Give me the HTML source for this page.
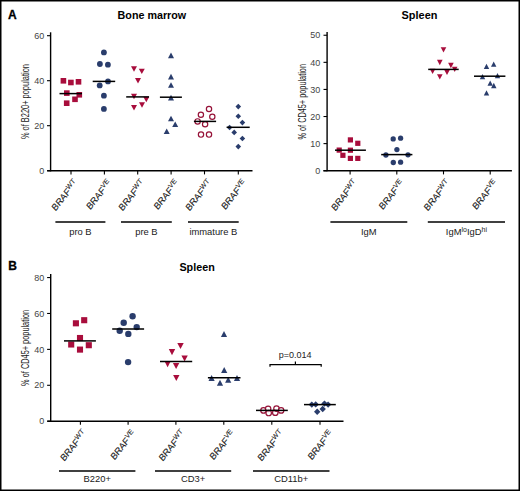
<!DOCTYPE html>
<html><head><meta charset="utf-8"><style>
html,body{margin:0;padding:0;background:#fff;}
body{width:520px;height:491px;overflow:hidden;}
svg{display:block;font-family:"Liberation Sans", sans-serif;}
</style></head><body>
<svg width="520" height="491" viewBox="0 0 520 491">
<rect x="0" y="0" width="520" height="491" fill="#fff"/>
<text x="8" y="19" font-size="12" text-anchor="start" font-weight="bold" fill="#000" stroke="#000" stroke-width="0.3">A</text>
<text x="151.9" y="19" font-size="10.6" text-anchor="middle" font-weight="bold" fill="#000" textLength="68.6" lengthAdjust="spacingAndGlyphs">Bone marrow</text>
<line x1="50.6" y1="32.3" x2="50.6" y2="171.35" stroke="#000" stroke-width="1.4"/>
<line x1="47.0" y1="35.7" x2="50.6" y2="35.7" stroke="#000" stroke-width="1.1"/>
<text x="44.2" y="38.900000000000006" font-size="9" text-anchor="end" font-weight="normal" fill="#444" >60</text>
<line x1="47.0" y1="80.7" x2="50.6" y2="80.7" stroke="#000" stroke-width="1.1"/>
<text x="44.2" y="83.9" font-size="9" text-anchor="end" font-weight="normal" fill="#444" >40</text>
<line x1="47.0" y1="125.7" x2="50.6" y2="125.7" stroke="#000" stroke-width="1.1"/>
<text x="44.2" y="128.9" font-size="9" text-anchor="end" font-weight="normal" fill="#444" >20</text>
<line x1="47.0" y1="170.7" x2="50.6" y2="170.7" stroke="#000" stroke-width="1.1"/>
<text x="44.2" y="173.89999999999998" font-size="9" text-anchor="end" font-weight="normal" fill="#444" >0</text>
<text transform="translate(29.3,101.6) rotate(-90)" font-size="10" text-anchor="middle" fill="#1a1a1a" textLength="75" lengthAdjust="spacingAndGlyphs">% of B220+ population</text>
<line x1="47.2" y1="170.8" x2="252.5" y2="170.8" stroke="#000" stroke-width="1.5"/>
<line x1="71" y1="170.8" x2="71" y2="174.4" stroke="#000" stroke-width="1.1"/>
<line x1="104.4" y1="170.8" x2="104.4" y2="174.4" stroke="#000" stroke-width="1.1"/>
<line x1="137.7" y1="170.8" x2="137.7" y2="174.4" stroke="#000" stroke-width="1.1"/>
<line x1="171.1" y1="170.8" x2="171.1" y2="174.4" stroke="#000" stroke-width="1.1"/>
<line x1="204.5" y1="170.8" x2="204.5" y2="174.4" stroke="#000" stroke-width="1.1"/>
<line x1="238.3" y1="170.8" x2="238.3" y2="174.4" stroke="#000" stroke-width="1.1"/>
<text transform="translate(77.90,183.60) scale(1,1.12) rotate(-48)" font-size="8.7" text-anchor="end" fill="#1a1a1a" stroke="#1a1a1a" stroke-width="0.1">BRAF<tspan font-size="6.6" dy="-3.0">WT</tspan></text>
<text transform="translate(111.60,183.60) scale(1,1.12) rotate(-48)" font-size="8.7" text-anchor="end" fill="#1a1a1a" stroke="#1a1a1a" stroke-width="0.1">BRAF<tspan font-size="6.6" dy="-3.0">VE</tspan></text>
<text transform="translate(144.90,183.60) scale(1,1.12) rotate(-48)" font-size="8.7" text-anchor="end" fill="#1a1a1a" stroke="#1a1a1a" stroke-width="0.1">BRAF<tspan font-size="6.6" dy="-3.0">WT</tspan></text>
<text transform="translate(179.10,183.60) scale(1,1.12) rotate(-48)" font-size="8.7" text-anchor="end" fill="#1a1a1a" stroke="#1a1a1a" stroke-width="0.1">BRAF<tspan font-size="6.6" dy="-3.0">VE</tspan></text>
<text transform="translate(211.80,183.60) scale(1,1.12) rotate(-48)" font-size="8.7" text-anchor="end" fill="#1a1a1a" stroke="#1a1a1a" stroke-width="0.1">BRAF<tspan font-size="6.6" dy="-3.0">WT</tspan></text>
<text transform="translate(246.60,183.60) scale(1,1.12) rotate(-48)" font-size="8.7" text-anchor="end" fill="#1a1a1a" stroke="#1a1a1a" stroke-width="0.1">BRAF<tspan font-size="6.6" dy="-3.0">VE</tspan></text>
<line x1="55.4" y1="221.9" x2="105.4" y2="221.9" stroke="#000" stroke-width="1.5"/>
<text x="80.40" y="235" font-size="9.4" text-anchor="middle" fill="#1a1a1a">pro B</text>
<line x1="121" y1="221.9" x2="171.8" y2="221.9" stroke="#000" stroke-width="1.5"/>
<text x="146.40" y="235" font-size="9.4" text-anchor="middle" fill="#1a1a1a">pre B</text>
<line x1="188" y1="221.9" x2="238.7" y2="221.9" stroke="#000" stroke-width="1.5"/>
<text x="213.35" y="235" font-size="9.4" text-anchor="middle" fill="#1a1a1a">immature B</text>
<rect x="60.60" y="78.00" width="5.6" height="5.6" fill="#a80d3c"/>
<rect x="68.10" y="79.70" width="5.6" height="5.6" fill="#a80d3c"/>
<rect x="75.70" y="79.00" width="5.6" height="5.6" fill="#a80d3c"/>
<rect x="64.00" y="90.30" width="5.6" height="5.6" fill="#a80d3c"/>
<rect x="76.50" y="92.00" width="5.6" height="5.6" fill="#a80d3c"/>
<rect x="72.20" y="96.50" width="5.6" height="5.6" fill="#a80d3c"/>
<rect x="63.90" y="100.40" width="5.6" height="5.6" fill="#a80d3c"/>
<line x1="59.5" y1="93.6" x2="82" y2="93.6" stroke="#000" stroke-width="1.5"/>
<circle cx="103.9" cy="52.4" r="2.9" fill="#2a3d6c"/>
<circle cx="99.9" cy="64" r="2.9" fill="#2a3d6c"/>
<circle cx="107.9" cy="64.7" r="2.9" fill="#2a3d6c"/>
<circle cx="108" cy="81.4" r="2.9" fill="#2a3d6c"/>
<circle cx="99.7" cy="85.4" r="2.9" fill="#2a3d6c"/>
<circle cx="103.9" cy="95.7" r="2.9" fill="#2a3d6c"/>
<circle cx="103.9" cy="108.9" r="2.9" fill="#2a3d6c"/>
<line x1="92.7" y1="81.4" x2="115.2" y2="81.4" stroke="#000" stroke-width="1.5"/>
<path d="M131.00,66.30H137.00L134.00,71.70Z" fill="#a80d3c"/>
<path d="M138.80,68.70H144.80L141.80,74.10Z" fill="#a80d3c"/>
<path d="M135.00,78.00H141.00L138.00,83.40Z" fill="#a80d3c"/>
<path d="M131.00,93.80H137.00L134.00,99.20Z" fill="#a80d3c"/>
<path d="M143.30,96.80H149.30L146.30,102.20Z" fill="#a80d3c"/>
<path d="M139.00,102.30H145.00L142.00,107.70Z" fill="#a80d3c"/>
<path d="M131.00,105.00H137.00L134.00,110.40Z" fill="#a80d3c"/>
<line x1="126.2" y1="96.9" x2="149" y2="96.9" stroke="#000" stroke-width="1.5"/>
<path d="M168.00,58.20H174.00L171.00,52.60Z" fill="#2a3d6c"/>
<path d="M168.00,79.40H174.00L171.00,73.80Z" fill="#2a3d6c"/>
<path d="M168.00,87.80H174.00L171.00,82.20Z" fill="#2a3d6c"/>
<path d="M168.00,100.40H174.00L171.00,94.80Z" fill="#2a3d6c"/>
<path d="M168.00,121.30H174.00L171.00,115.70Z" fill="#2a3d6c"/>
<path d="M172.20,127.10H178.20L175.20,121.50Z" fill="#2a3d6c"/>
<path d="M163.70,134.00H169.70L166.70,128.40Z" fill="#2a3d6c"/>
<line x1="159.9" y1="97.2" x2="181.9" y2="97.2" stroke="#000" stroke-width="1.5"/>
<circle cx="209" cy="109" r="2.65" fill="#fff" fill-opacity="0.6" stroke="#961238" stroke-width="1.2"/>
<circle cx="200.9" cy="114.8" r="2.65" fill="#fff" fill-opacity="0.6" stroke="#961238" stroke-width="1.2"/>
<circle cx="212.3" cy="116.7" r="2.65" fill="#fff" fill-opacity="0.6" stroke="#961238" stroke-width="1.2"/>
<circle cx="197.6" cy="121.4" r="2.65" fill="#fff" fill-opacity="0.6" stroke="#961238" stroke-width="1.2"/>
<circle cx="205.1" cy="124.3" r="2.65" fill="#fff" fill-opacity="0.6" stroke="#961238" stroke-width="1.2"/>
<circle cx="201" cy="134.6" r="2.65" fill="#fff" fill-opacity="0.6" stroke="#961238" stroke-width="1.2"/>
<circle cx="209" cy="134.6" r="2.65" fill="#fff" fill-opacity="0.6" stroke="#961238" stroke-width="1.2"/>
<line x1="193.9" y1="121.4" x2="216.1" y2="121.4" stroke="#000" stroke-width="1.5"/>
<path d="M238.30,103.80L241.10,106.60L238.30,109.40L235.50,106.60Z" fill="#2a3d6c"/>
<path d="M238.30,113.50L241.10,116.30L238.30,119.10L235.50,116.30Z" fill="#2a3d6c"/>
<path d="M242.40,119.80L245.20,122.60L242.40,125.40L239.60,122.60Z" fill="#2a3d6c"/>
<path d="M229.60,124.70L232.40,127.50L229.60,130.30L226.80,127.50Z" fill="#2a3d6c"/>
<path d="M234.20,129.60L237.00,132.40L234.20,135.20L231.40,132.40Z" fill="#2a3d6c"/>
<path d="M242.40,135.70L245.20,138.50L242.40,141.30L239.60,138.50Z" fill="#2a3d6c"/>
<path d="M238.30,143.80L241.10,146.60L238.30,149.40L235.50,146.60Z" fill="#2a3d6c"/>
<line x1="226.6" y1="127.3" x2="249.7" y2="127.3" stroke="#000" stroke-width="1.5"/>
<text x="419.5" y="19" font-size="10.6" text-anchor="middle" font-weight="bold" fill="#000" textLength="35.8" lengthAdjust="spacingAndGlyphs">Spleen</text>
<line x1="327.1" y1="32.1" x2="327.1" y2="171.35" stroke="#000" stroke-width="1.4"/>
<line x1="323.5" y1="35.24999999999997" x2="327.1" y2="35.24999999999997" stroke="#000" stroke-width="1.1"/>
<text x="320.2" y="38.449999999999974" font-size="9" text-anchor="end" font-weight="normal" fill="#444" >50</text>
<line x1="323.5" y1="62.33999999999999" x2="327.1" y2="62.33999999999999" stroke="#000" stroke-width="1.1"/>
<text x="320.2" y="65.53999999999999" font-size="9" text-anchor="end" font-weight="normal" fill="#444" >40</text>
<line x1="323.5" y1="89.42999999999999" x2="327.1" y2="89.42999999999999" stroke="#000" stroke-width="1.1"/>
<text x="320.2" y="92.63" font-size="9" text-anchor="end" font-weight="normal" fill="#444" >30</text>
<line x1="323.5" y1="116.51999999999998" x2="327.1" y2="116.51999999999998" stroke="#000" stroke-width="1.1"/>
<text x="320.2" y="119.71999999999998" font-size="9" text-anchor="end" font-weight="normal" fill="#444" >20</text>
<line x1="323.5" y1="143.60999999999999" x2="327.1" y2="143.60999999999999" stroke="#000" stroke-width="1.1"/>
<text x="320.2" y="146.80999999999997" font-size="9" text-anchor="end" font-weight="normal" fill="#444" >10</text>
<line x1="323.5" y1="170.7" x2="327.1" y2="170.7" stroke="#000" stroke-width="1.1"/>
<text x="320.2" y="173.89999999999998" font-size="9" text-anchor="end" font-weight="normal" fill="#444" >0</text>
<text transform="translate(305.6,101.8) rotate(-90)" font-size="10" text-anchor="middle" fill="#1a1a1a" textLength="75.5" lengthAdjust="spacingAndGlyphs">% of CD45+ population</text>
<line x1="323.4" y1="170.8" x2="511.9" y2="170.8" stroke="#000" stroke-width="1.5"/>
<line x1="350.1" y1="170.8" x2="350.1" y2="174.4" stroke="#000" stroke-width="1.1"/>
<line x1="396.8" y1="170.8" x2="396.8" y2="174.4" stroke="#000" stroke-width="1.1"/>
<line x1="443.5" y1="170.8" x2="443.5" y2="174.4" stroke="#000" stroke-width="1.1"/>
<line x1="490.2" y1="170.8" x2="490.2" y2="174.4" stroke="#000" stroke-width="1.1"/>
<text transform="translate(357.50,183.60) scale(1,1.12) rotate(-48)" font-size="8.7" text-anchor="end" fill="#1a1a1a" stroke="#1a1a1a" stroke-width="0.1">BRAF<tspan font-size="6.6" dy="-3.0">WT</tspan></text>
<text transform="translate(404.20,183.60) scale(1,1.12) rotate(-48)" font-size="8.7" text-anchor="end" fill="#1a1a1a" stroke="#1a1a1a" stroke-width="0.1">BRAF<tspan font-size="6.6" dy="-3.0">VE</tspan></text>
<text transform="translate(450.20,183.60) scale(1,1.12) rotate(-48)" font-size="8.7" text-anchor="end" fill="#1a1a1a" stroke="#1a1a1a" stroke-width="0.1">BRAF<tspan font-size="6.6" dy="-3.0">WT</tspan></text>
<text transform="translate(497.60,183.60) scale(1,1.12) rotate(-48)" font-size="8.7" text-anchor="end" fill="#1a1a1a" stroke="#1a1a1a" stroke-width="0.1">BRAF<tspan font-size="6.6" dy="-3.0">VE</tspan></text>
<line x1="330.4" y1="222" x2="407.3" y2="222" stroke="#000" stroke-width="1.5"/>
<text x="368.85" y="235" font-size="9.4" text-anchor="middle" fill="#1a1a1a">IgM</text>
<line x1="427.8" y1="222" x2="505" y2="222" stroke="#000" stroke-width="1.5"/>
<text x="466.40" y="235" font-size="9.4" text-anchor="middle" fill="#1a1a1a">IgM<tspan font-size="7" dy="-3.2">lo</tspan><tspan dy="3.2">IgD</tspan><tspan font-size="7" dy="-3.2">hi</tspan></text>
<rect x="347.80" y="137.30" width="5.2" height="5.2" fill="#a80d3c"/>
<rect x="355.20" y="140.70" width="5.2" height="5.2" fill="#a80d3c"/>
<rect x="336.60" y="147.50" width="5.2" height="5.2" fill="#a80d3c"/>
<rect x="347.80" y="147.60" width="5.2" height="5.2" fill="#a80d3c"/>
<rect x="340.30" y="152.70" width="5.2" height="5.2" fill="#a80d3c"/>
<rect x="347.80" y="155.80" width="5.2" height="5.2" fill="#a80d3c"/>
<rect x="355.20" y="155.80" width="5.2" height="5.2" fill="#a80d3c"/>
<line x1="335" y1="150.2" x2="365.9" y2="150.2" stroke="#000" stroke-width="1.5"/>
<circle cx="393.2" cy="138.9" r="2.65" fill="#2a3d6c"/>
<circle cx="400.6" cy="138.2" r="2.65" fill="#2a3d6c"/>
<circle cx="396.9" cy="149.6" r="2.65" fill="#2a3d6c"/>
<circle cx="385.9" cy="155" r="2.65" fill="#2a3d6c"/>
<circle cx="408" cy="154.8" r="2.65" fill="#2a3d6c"/>
<circle cx="393.3" cy="162.5" r="2.65" fill="#2a3d6c"/>
<circle cx="400.6" cy="162.2" r="2.65" fill="#2a3d6c"/>
<line x1="381.2" y1="154.6" x2="412.4" y2="154.6" stroke="#000" stroke-width="1.5"/>
<path d="M440.70,47.25H446.30L443.50,52.55Z" fill="#a80d3c"/>
<path d="M437.00,59.85H442.60L439.80,65.15Z" fill="#a80d3c"/>
<path d="M448.10,62.85H453.70L450.90,68.15Z" fill="#a80d3c"/>
<path d="M451.90,66.75H457.50L454.70,72.05Z" fill="#a80d3c"/>
<path d="M429.80,68.65H435.40L432.60,73.95Z" fill="#a80d3c"/>
<path d="M444.20,69.65H449.80L447.00,74.95Z" fill="#a80d3c"/>
<path d="M437.00,74.15H442.60L439.80,79.45Z" fill="#a80d3c"/>
<line x1="428.2" y1="69.4" x2="458.7" y2="69.4" stroke="#000" stroke-width="1.5"/>
<path d="M491.00,66.75H496.40L493.70,61.45Z" fill="#2a3d6c"/>
<path d="M483.80,68.95H489.20L486.50,63.65Z" fill="#2a3d6c"/>
<path d="M479.80,79.35H485.20L482.50,74.05Z" fill="#2a3d6c"/>
<path d="M494.80,78.35H500.20L497.50,73.05Z" fill="#2a3d6c"/>
<path d="M487.50,85.85H492.90L490.20,80.55Z" fill="#2a3d6c"/>
<path d="M491.10,88.15H496.50L493.80,82.85Z" fill="#2a3d6c"/>
<path d="M483.80,95.55H489.20L486.50,90.25Z" fill="#2a3d6c"/>
<line x1="474" y1="76.2" x2="505.4" y2="76.2" stroke="#000" stroke-width="1.5"/>
<text x="8.3" y="269.6" font-size="12" text-anchor="start" font-weight="bold" fill="#000" stroke="#000" stroke-width="0.3">B</text>
<text x="197.1" y="270.6" font-size="10.6" text-anchor="middle" font-weight="bold" fill="#000" textLength="35.3" lengthAdjust="spacingAndGlyphs">Spleen</text>
<line x1="50.7" y1="274" x2="50.7" y2="421.84999999999997" stroke="#000" stroke-width="1.4"/>
<line x1="47.1" y1="277.55999999999995" x2="50.7" y2="277.55999999999995" stroke="#000" stroke-width="1.1"/>
<text x="44.2" y="280.75999999999993" font-size="9" text-anchor="end" font-weight="normal" fill="#444" >80</text>
<line x1="47.1" y1="313.46999999999997" x2="50.7" y2="313.46999999999997" stroke="#000" stroke-width="1.1"/>
<text x="44.2" y="316.66999999999996" font-size="9" text-anchor="end" font-weight="normal" fill="#444" >60</text>
<line x1="47.1" y1="349.38" x2="50.7" y2="349.38" stroke="#000" stroke-width="1.1"/>
<text x="44.2" y="352.58" font-size="9" text-anchor="end" font-weight="normal" fill="#444" >40</text>
<line x1="47.1" y1="385.28999999999996" x2="50.7" y2="385.28999999999996" stroke="#000" stroke-width="1.1"/>
<text x="44.2" y="388.48999999999995" font-size="9" text-anchor="end" font-weight="normal" fill="#444" >20</text>
<line x1="47.1" y1="421.2" x2="50.7" y2="421.2" stroke="#000" stroke-width="1.1"/>
<text x="44.2" y="424.4" font-size="9" text-anchor="end" font-weight="normal" fill="#444" >0</text>
<text transform="translate(29.2,347.9) rotate(-90)" font-size="10" text-anchor="middle" fill="#1a1a1a" textLength="76" lengthAdjust="spacingAndGlyphs">% of CD45+ population</text>
<line x1="47.3" y1="421.2" x2="343.5" y2="421.2" stroke="#000" stroke-width="1.5"/>
<line x1="80.4" y1="421.2" x2="80.4" y2="424.8" stroke="#000" stroke-width="1.1"/>
<line x1="128.1" y1="421.2" x2="128.1" y2="424.8" stroke="#000" stroke-width="1.1"/>
<line x1="175.9" y1="421.2" x2="175.9" y2="424.8" stroke="#000" stroke-width="1.1"/>
<line x1="223.8" y1="421.2" x2="223.8" y2="424.8" stroke="#000" stroke-width="1.1"/>
<line x1="271.8" y1="421.2" x2="271.8" y2="424.8" stroke="#000" stroke-width="1.1"/>
<line x1="320" y1="421.2" x2="320" y2="424.8" stroke="#000" stroke-width="1.1"/>
<text transform="translate(86.60,434.00) scale(1,1.12) rotate(-48)" font-size="8.7" text-anchor="end" fill="#1a1a1a" stroke="#1a1a1a" stroke-width="0.1">BRAF<tspan font-size="6.6" dy="-3.0">WT</tspan></text>
<text transform="translate(135.80,434.00) scale(1,1.12) rotate(-48)" font-size="8.7" text-anchor="end" fill="#1a1a1a" stroke="#1a1a1a" stroke-width="0.1">BRAF<tspan font-size="6.6" dy="-3.0">VE</tspan></text>
<text transform="translate(185.10,434.00) scale(1,1.12) rotate(-48)" font-size="8.7" text-anchor="end" fill="#1a1a1a" stroke="#1a1a1a" stroke-width="0.1">BRAF<tspan font-size="6.6" dy="-3.0">WT</tspan></text>
<text transform="translate(235.00,434.00) scale(1,1.12) rotate(-48)" font-size="8.7" text-anchor="end" fill="#1a1a1a" stroke="#1a1a1a" stroke-width="0.1">BRAF<tspan font-size="6.6" dy="-3.0">VE</tspan></text>
<text transform="translate(283.90,434.00) scale(1,1.12) rotate(-48)" font-size="8.7" text-anchor="end" fill="#1a1a1a" stroke="#1a1a1a" stroke-width="0.1">BRAF<tspan font-size="6.6" dy="-3.0">WT</tspan></text>
<text transform="translate(333.10,434.00) scale(1,1.12) rotate(-48)" font-size="8.7" text-anchor="end" fill="#1a1a1a" stroke="#1a1a1a" stroke-width="0.1">BRAF<tspan font-size="6.6" dy="-3.0">VE</tspan></text>
<line x1="59" y1="471" x2="135.4" y2="471" stroke="#000" stroke-width="1.5"/>
<text x="97.20" y="481.6" font-size="9.4" text-anchor="middle" fill="#1a1a1a">B220+</text>
<line x1="155" y1="471" x2="231.2" y2="471" stroke="#000" stroke-width="1.5"/>
<text x="193.10" y="481.6" font-size="9.4" text-anchor="middle" fill="#1a1a1a">CD3+</text>
<line x1="253" y1="471" x2="329.5" y2="471" stroke="#000" stroke-width="1.5"/>
<text x="291.25" y="481.6" font-size="9.4" text-anchor="middle" fill="#1a1a1a">CD11b+</text>
<rect x="81.15" y="317.15" width="6.1" height="6.1" fill="#a80d3c"/>
<rect x="72.85" y="320.25" width="6.1" height="6.1" fill="#a80d3c"/>
<rect x="76.95" y="334.95" width="6.1" height="6.1" fill="#a80d3c"/>
<rect x="68.15" y="341.45" width="6.1" height="6.1" fill="#a80d3c"/>
<rect x="85.75" y="342.15" width="6.1" height="6.1" fill="#a80d3c"/>
<rect x="76.95" y="346.55" width="6.1" height="6.1" fill="#a80d3c"/>
<line x1="64" y1="340.9" x2="95.9" y2="340.9" stroke="#000" stroke-width="1.5"/>
<circle cx="132.6" cy="316.3" r="3.2" fill="#2a3d6c"/>
<circle cx="123.7" cy="322.7" r="3.2" fill="#2a3d6c"/>
<circle cx="136.7" cy="327.1" r="3.2" fill="#2a3d6c"/>
<circle cx="119.7" cy="330.8" r="3.2" fill="#2a3d6c"/>
<circle cx="128.3" cy="333.9" r="3.2" fill="#2a3d6c"/>
<circle cx="128.1" cy="362.1" r="3.2" fill="#2a3d6c"/>
<line x1="112.2" y1="329.1" x2="144.1" y2="329.1" stroke="#000" stroke-width="1.5"/>
<path d="M177.30,342.95H183.70L180.50,349.05Z" fill="#a80d3c"/>
<path d="M168.80,349.05H175.20L172.00,355.15Z" fill="#a80d3c"/>
<path d="M181.40,355.45H187.80L184.60,361.55Z" fill="#a80d3c"/>
<path d="M164.40,361.05H170.80L167.60,367.15Z" fill="#a80d3c"/>
<path d="M172.90,362.95H179.30L176.10,369.05Z" fill="#a80d3c"/>
<path d="M173.10,374.95H179.50L176.30,381.05Z" fill="#a80d3c"/>
<line x1="160" y1="361.5" x2="192.2" y2="361.5" stroke="#000" stroke-width="1.5"/>
<path d="M220.90,337.10H227.10L224.00,331.10Z" fill="#2a3d6c"/>
<path d="M221.10,373.10H227.30L224.20,367.10Z" fill="#2a3d6c"/>
<path d="M208.50,380.90H214.70L211.60,374.90Z" fill="#2a3d6c"/>
<path d="M233.90,380.90H240.10L237.00,374.90Z" fill="#2a3d6c"/>
<path d="M225.10,382.80H231.30L228.20,376.80Z" fill="#2a3d6c"/>
<path d="M216.90,385.70H223.10L220.00,379.70Z" fill="#2a3d6c"/>
<line x1="207.9" y1="377.7" x2="240.5" y2="377.7" stroke="#000" stroke-width="1.5"/>
<circle cx="263.5" cy="410.4" r="2.75" fill="#fff" fill-opacity="0.6" stroke="#961238" stroke-width="1.2"/>
<circle cx="268.1" cy="408.8" r="2.75" fill="#fff" fill-opacity="0.6" stroke="#961238" stroke-width="1.2"/>
<circle cx="268.7" cy="413" r="2.75" fill="#fff" fill-opacity="0.6" stroke="#961238" stroke-width="1.2"/>
<circle cx="275.3" cy="412.7" r="2.75" fill="#fff" fill-opacity="0.6" stroke="#961238" stroke-width="1.2"/>
<circle cx="276.5" cy="408.6" r="2.75" fill="#fff" fill-opacity="0.6" stroke="#961238" stroke-width="1.2"/>
<circle cx="281.1" cy="410.4" r="2.75" fill="#fff" fill-opacity="0.6" stroke="#961238" stroke-width="1.2"/>
<line x1="256" y1="410.4" x2="287.8" y2="410.4" stroke="#000" stroke-width="1.5"/>
<path d="M311.80,401.40L315.00,404.60L311.80,407.80L308.60,404.60Z" fill="#2a3d6c"/>
<path d="M315.70,401.20L318.90,404.40L315.70,407.60L312.50,404.40Z" fill="#2a3d6c"/>
<path d="M324.50,400.40L327.70,403.60L324.50,406.80L321.30,403.60Z" fill="#2a3d6c"/>
<path d="M328.10,401.40L331.30,404.60L328.10,407.80L324.90,404.60Z" fill="#2a3d6c"/>
<path d="M317.20,408.50L320.40,411.70L317.20,414.90L314.00,411.70Z" fill="#2a3d6c"/>
<path d="M322.70,405.80L325.90,409.00L322.70,412.20L319.50,409.00Z" fill="#2a3d6c"/>
<line x1="304" y1="404.6" x2="335.8" y2="404.6" stroke="#000" stroke-width="1.5"/>
<path d="M270,366.8V364.6H321.2V366.8M295.4,364.6V361.4" fill="none" stroke="#000" stroke-width="1.2"/>
<text x="295.2" y="357.6" font-size="9" text-anchor="middle" font-weight="normal" fill="#222" >p=0.014</text>
<rect x="0.75" y="0.75" width="518.5" height="489.5" fill="none" stroke="#000" stroke-width="1.5"/>
</svg>
</body></html>
